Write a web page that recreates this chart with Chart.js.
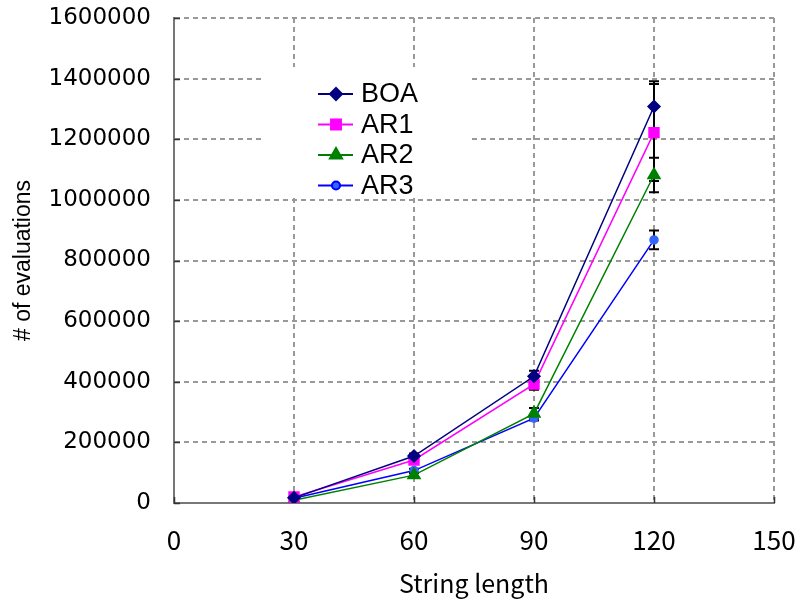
<!DOCTYPE html>
<html>
<head>
<meta charset="utf-8">
<script src="https://cdn.jsdelivr.net/npm/chart.js@4/dist/chart.umd.min.js"></script>
<style>
  html, body { margin: 0; padding: 0; background: #fff; }
  #wrap { width: 798px; height: 602px; }
</style>
</head>
<body>
<div id="wrap"><canvas id="myChart" width="798" height="602"></canvas></div>
<script>
const lengths = [30, 60, 90, 120];
const xTicks = [0, 30, 60, 90, 120, 150];
const yTicks = [0, 200000, 400000, 600000, 800000, 1000000, 1200000, 1400000, 1600000];

const boaValues = [17000, 155000, 418000, 1308000];
const ar1Values = [20000, 142000, 392000, 1222000];
const ar2Values = [9000, 92000, 295000, 1082000];
const ar3Values = [16000, 107000, 280000, 868000];

const boaErr = [4000, 8000, 18000, 83000];
const ar1Err = [4000, 8000, 18000, 160000];
const ar2Err = [3000, 7000, 18000, 57000];
const ar3Err = [3000, 6000, 8000, 31000];

const seriesNames = ["BOA", "AR1", "AR2", "AR3"];
const seriesColors = ["#000080", "#ff00ff", "#008000", "#0000ff"];
const markerColors = ["#000080", "#ff00ff", "#008000", "#3366ff"];
const markerStyles = ["rectRot", "rect", "triangle", "circle"];
const markerSizes = [6, 7, 7, 4];

const allValues = [boaValues, ar1Values, ar2Values, ar3Values];
const allErrors = [boaErr, ar1Err, ar2Err, ar3Err];

const xTickFont = { family: "'Noto Sans CJK JP', sans-serif", size: 26 };
const yTickFont = { family: "'DejaVu Sans', sans-serif", size: 23 };

// error bars drawn through the chart's own scales
const errorBars = {
	id: "errorBars",
	beforeDatasetsDraw(chart) {
		const ctx = chart.ctx;
		const xs = chart.scales.x, ys = chart.scales.y;
		ctx.save();
		ctx.strokeStyle = "#000";
		ctx.lineWidth = 2;
		allValues.forEach((vals, s) => {
			vals.forEach((v, i) => {
				const px = xs.getPixelForValue(lengths[i]);
				const top = ys.getPixelForValue(v + allErrors[s][i]);
				const bot = ys.getPixelForValue(v - allErrors[s][i]);
				ctx.beginPath();
				ctx.moveTo(px, top); ctx.lineTo(px, bot);
				ctx.moveTo(px - 5, top); ctx.lineTo(px + 5, top);
				ctx.moveTo(px - 5, bot); ctx.lineTo(px + 5, bot);
				ctx.stroke();
			});
		});
		ctx.restore();
	},
};

// inner tick marks and the legend box inside the plot
const extras = {
	id: "extras",
	beforeDatasetsDraw(chart) {
		const ctx = chart.ctx;
		const a = chart.chartArea;
		const xs = chart.scales.x, ys = chart.scales.y;
		ctx.save();
		ctx.strokeStyle = "#333";
		ctx.lineWidth = 1.5;
		ctx.beginPath();
		yTicks.forEach((t) => {
			const py = Math.round(ys.getPixelForValue(t)) + 0.5;
			ctx.moveTo(a.left, py); ctx.lineTo(a.left + 6, py);
		});
		xTicks.forEach((t) => {
			const px = Math.round(xs.getPixelForValue(t)) + 0.5;
			ctx.moveTo(px, a.bottom); ctx.lineTo(px, a.bottom - 6);
		});
		ctx.stroke();

		// legend
		ctx.fillStyle = "#fff";
		ctx.fillRect(263, 67, 205, 131);
		seriesNames.forEach((name, i) => {
			const y = 94 + i * 30.5;
			ctx.strokeStyle = seriesColors[i];
			ctx.lineWidth = 2;
			ctx.beginPath();
			ctx.moveTo(318, y); ctx.lineTo(353, y);
			ctx.stroke();
			ctx.fillStyle = markerColors[i];
			Chart.helpers.drawPoint(ctx, {
				pointStyle: markerStyles[i],
				radius: markerSizes[i],
				borderWidth: 1,
			}, 336, y);
			ctx.fillStyle = "#000";
			ctx.font = "27px 'Liberation Sans', Arial, sans-serif";
			ctx.textBaseline = "middle";
			ctx.fillText(name, 361, y + 1);
		});
		ctx.restore();
	},
};

const datasets = allValues.map((vals, s) => ({
	label: seriesNames[s],
	data: vals.map((v, i) => ({ x: lengths[i], y: v })),
	borderColor: seriesColors[s],
	backgroundColor: markerColors[s],
	pointBorderColor: markerColors[s],
	pointBackgroundColor: markerColors[s],
	pointStyle: markerStyles[s],
	pointRadius: markerSizes[s],
	borderWidth: 1.5,
	tension: 0,
}));

new Chart(document.getElementById("myChart").getContext("2d"), {
	type: "line",
	data: { datasets: datasets },
	plugins: [errorBars, extras],
	options: {
		responsive: false,
		animation: false,
		layout: { padding: { top: 18, right: 24, left: 0, bottom: 0 } },
		plugins: { legend: { display: false }, tooltip: { enabled: false } },
		scales: {
			x: {
				type: "linear",
				min: 0,
				max: 150,
				afterBuildTicks: (scale) => { scale.ticks = xTicks.map((v) => ({ value: v })); },
				afterFit: (scale) => {
					scale.height = 99;
					scale.paddingLeft = 0;
					scale.paddingRight = 0;
				},
				ticks: { font: xTickFont, color: "#000", padding: 22 },
				grid: { color: "#999", lineWidth: 2, drawTicks: false },
				border: { display: true, color: "#777", width: 2, dash: [5, 4] },
				title: {
					display: true,
					text: "String length",
					font: { family: "'Noto Sans CJK JP', sans-serif", size: 25 },
					color: "#000",
					padding: { top: 0 },
				},
			},
			y: {
				min: 0,
				max: 1600000,
				afterBuildTicks: (scale) => { scale.ticks = yTicks.map((v) => ({ value: v })); },
				afterFit: (scale) => {
					scale.width = 174;
					scale.paddingTop = 0;
					scale.paddingBottom = 0;
				},
				ticks: { font: yTickFont, color: "#000", padding: 23, callback: (v) => String(v) },
				grid: { color: "#999", lineWidth: 2, drawTicks: false },
				border: { display: true, color: "#777", width: 2, dash: [5, 4] },
				title: {
					display: true,
					text: "# of evaluations",
					font: { family: "'Liberation Sans', Arial, sans-serif", size: 23 },
					color: "#000",
					padding: { top: 10, bottom: 0 },
				},
			},
		},
	},
});
</script>
</body>
</html>
